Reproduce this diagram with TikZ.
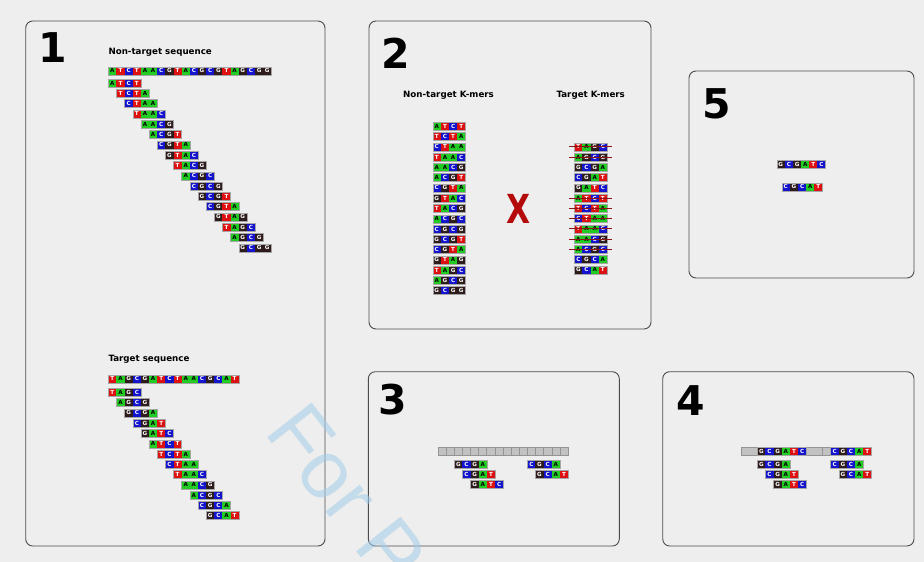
\documentclass[tikz,border=0pt]{standalone}
\usepackage{fontspec}
\setsansfont{DejaVu Sans}
\newfontfamily\wmfont{Liberation Sans}
\usetikzlibrary{positioning}

\definecolor{bgcol}{HTML}{EEEEEE}
\definecolor{nucA}{HTML}{22CC22}
\definecolor{nucT}{HTML}{DD1111}
\definecolor{nucC}{HTML}{1414CC}
\definecolor{nucG}{HTML}{2E1C1C}
\definecolor{strikecol}{HTML}{8C1414}
\definecolor{markcol}{HTML}{B40A0A}
\definecolor{wmcol}{HTML}{A0CDE8}

\tikzset{
  cell/.style={minimum width=8.15pt,minimum height=8pt,inner sep=0pt,outer sep=0pt,
    font=\sffamily\bfseries\fontsize{5.6}{6}\selectfont},
  baseA/.style={cell,fill=nucA,text=black},
  baseT/.style={cell,fill=nucT,text=white},
  baseC/.style={cell,fill=nucC,text=white},
  baseG/.style={cell,fill=nucG,text=white},
  panel/.style={draw=black!70,line width=.9pt,rounded corners=7pt,fill=bgcol},
  panelnum/.style={anchor=base west,inner sep=0pt,font=\sffamily\bfseries\fontsize{41}{41}\selectfont},
  title/.style={inner sep=0pt,font=\sffamily\bfseries\fontsize{8.7}{9}\selectfont},
  graycell/.style={fill=black!24,draw=black!42,line width=.4pt},
  strike/.style={draw=strikecol,line width=.9pt},
}

% one k-mer: left x, centre y, bases
\newcommand{\kmer}[3]{%
  \edef\kmerlist{#3}%
  \foreach \b [count=\i] in \kmerlist {
    \node (c\i) at ({#1+(\i-0.5)*8.15},{#2}) [base\b] {\b};
    \xdef\kmerlen{\i}
  }
  \draw [black!35,line width=.4pt] ({#1},{#2-4}) rectangle ({#1+\kmerlen*8.15},{#2+4});
}

\begin{document}
\begin{tikzpicture}[x=1pt,y=-1pt]
    \useasboundingbox [fill=bgcol] (0,0) rectangle (924,562);

    %%%% cadres
    \draw [panel] (25.7,21) rectangle (325,546);
    \draw [panel] (369,21) rectangle (651,329);
    \draw [panel] (368.3,371.7) rectangle (619.3,546);
    \draw [panel] (662.7,371.7) rectangle (914,546);
    \draw [panel] (689,71) rectangle (914,278);

    \node (num1) at (38.5,62) [panelnum] {1};
    \node (num2) at (381,68) [panelnum] {2};
    \node (num3) at (378.4,414) [panelnum] {3};
    \node (num4) at (676,415) [panelnum] {4};
    \node (num5) at (702.3,118) [panelnum] {5};

    %%%% 1
    \node (tnt) at (108.3,54) [title,anchor=base west] {Non-target sequence};
    \kmer{108.3}{70.7}{A,T,C,T,A,A,C,G,T,A,C,G,C,G,T,A,G,C,G,G}
    \foreach \km [count=\r from 0] in {{A,T,C,T},{T,C,T,A},{C,T,A,A},{T,A,A,C},{A,A,C,G},
        {A,C,G,T},{C,G,T,A},{G,T,A,C},{T,A,C,G},{A,C,G,C},{C,G,C,G},{G,C,G,T},{C,G,T,A},
        {G,T,A,G},{T,A,G,C},{A,G,C,G},{G,C,G,G}}
      {\kmer{108.3+\r*8.15}{83+\r*10.3}{\km}}
    \node (tt) at (108.3,361.5) [title,anchor=base west] {Target sequence};
    \kmer{108.3}{378.7}{T,A,G,C,G,A,T,C,T,A,A,C,G,C,A,T}
    \foreach \km [count=\r from 0] in {{T,A,G,C},{A,G,C,G},{G,C,G,A},{C,G,A,T},{G,A,T,C},
        {A,T,C,T},{T,C,T,A},{C,T,A,A},{T,A,A,C},{A,A,C,G},{A,C,G,C},{C,G,C,A},{G,C,A,T}}
      {\kmer{108.3+\r*8.15}{392.3+\r*10.28}{\km}}

    %%%% 2
    \node (tntk) at (448.5,97.2) [title,anchor=base] {Non-target K-mers};
    \node (ttk) at (590.7,97.2) [title,anchor=base] {Target K-mers};
    \foreach \km [count=\r from 0] in {{A,T,C,T},{T,C,T,A},{C,T,A,A},{T,A,A,C},{A,A,C,G},
        {A,C,G,T},{C,G,T,A},{G,T,A,C},{T,A,C,G},{A,C,G,C},{C,G,C,G},{G,C,G,T},{C,G,T,A},
        {G,T,A,G},{T,A,G,C},{A,G,C,G},{G,C,G,G}}
      {\kmer{432.7}{126.3+\r*10.27}{\km}}
    \foreach \km [count=\r from 0] in {{T,A,G,C},{A,G,C,G},{G,C,G,A},{C,G,A,T},{G,A,T,C},
        {A,T,C,T},{T,C,T,A},{C,T,A,A},{T,A,A,C},{A,A,C,G},{A,C,G,C},{C,G,C,A},{G,C,A,T}}
      {\kmer{574.3}{146.7+\r*10.27}{\km}}
    \foreach \r in {0,1,5,6,7,8,9,10}
      {\draw [strike] (569,{146.7+\r*10.27}) -- (611.7,{146.7+\r*10.27});}
    \node (cross) at (519,208.7) [text=markcol,inner sep=0pt,xscale=.78,
      font=\sffamily\bfseries\fontsize{40}{40}\selectfont] {X};

    %%%% 3
    \foreach \i in {0,...,15}
      {\draw [graycell] ({437.7+\i*8.15},447.3) rectangle ++(8.15,8);}
    \kmer{454.3}{464.3}{G,C,G,A}
    \kmer{462.45}{474.3}{C,G,A,T}
    \kmer{470.6}{484.3}{G,A,T,C}
    \kmer{527.3}{464.3}{C,G,C,A}
    \kmer{535.45}{474.3}{G,C,A,T}

    %%%% 4
    \draw [graycell] (741,447.3) rectangle ++(16.3,8);
    \draw [graycell] (806.2,447.3) rectangle ++(16.3,8);
    \draw [graycell] (822.5,447.3) rectangle ++(8.15,8);
    \kmer{757.3}{451.3}{G,C,G,A,T,C}
    \kmer{830.65}{451.3}{C,G,C,A,T}
    \kmer{757.3}{464.3}{G,C,G,A}
    \kmer{765.45}{474.3}{C,G,A,T}
    \kmer{773.6}{484.3}{G,A,T,C}
    \kmer{830.65}{464.3}{C,G,C,A}
    \kmer{838.8}{474.3}{G,C,A,T}

    %%%% 5
    \kmer{776.7}{164}{G,C,G,A,T,C}
    \kmer{781.7}{186.7}{C,G,C,A,T}

    %%%% filigrane
    \begin{scope}
      \clip (0,0) rectangle (924,562);
      \node (wm) at (263,432) [anchor=base west,rotate=-52,text=wmcol,text opacity=.55,
        inner sep=0pt,font=\wmfont\fontsize{82}{82}\selectfont] {For Peer Review};
    \end{scope}
  \end{tikzpicture}
\end{document}
